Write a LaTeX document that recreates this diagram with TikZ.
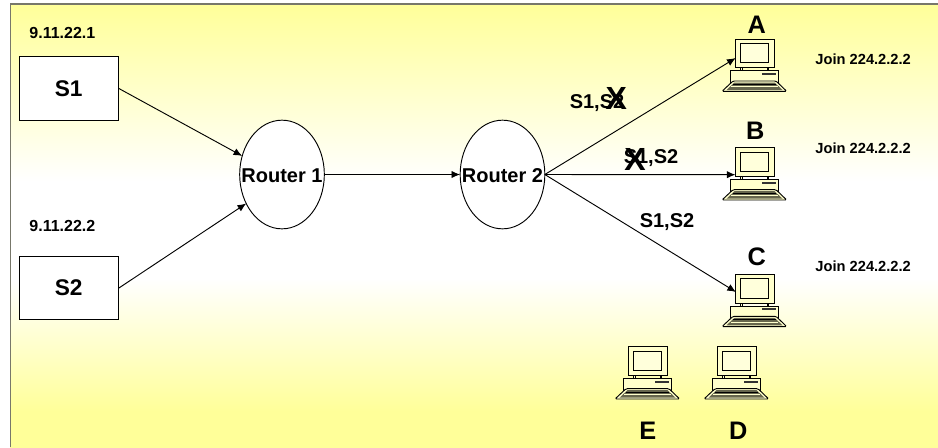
\documentclass[tikz,border=0pt]{standalone}
\usepackage{fontspec}
\setmainfont{Liberation Sans}
\usetikzlibrary{shapes.geometric,arrows.meta}
\definecolor{paleY}{HTML}{FFFF99}
\definecolor{creamY}{HTML}{FFFFCC}
\definecolor{frameG}{HTML}{77776A}
\definecolor{keyG}{HTML}{66664D}
\pgfdeclareverticalshading{slideband}{100bp}{color(0bp)=(paleY); color(29bp)=(paleY); color(44bp)=(white); color(55bp)=(white); color(75bp)=(paleY); color(100bp)=(paleY)}
\tikzset{
    srcbox/.style={draw,fill=white,minimum width=74.6pt,minimum height=47.6pt,inner sep=0pt,font=\fontsize{17}{19}\selectfont\bfseries},
    router/.style={draw,fill=white,ellipse,minimum width=63.5pt,minimum height=81.5pt,inner sep=0pt,outer sep=0pt},
    rtext/.style={inner sep=0pt,font=\fontsize{15}{17}\selectfont\bfseries},
    small/.style={inner sep=0pt,font=\fontsize{12}{14}\selectfont\bfseries},
    joinlab/.style={inner sep=0pt,anchor=west,font=\fontsize{11}{13}\selectfont\bfseries},
    flow/.style={inner sep=0pt,font=\fontsize{15}{17}\selectfont\bfseries},
    pcname/.style={inner sep=0pt,font=\fontsize{19}{21}\selectfont\bfseries},
    cross/.style={inner sep=0pt,font=\fontsize{24}{26}\selectfont\bfseries},
    computer/.pic={
        \draw[fill=creamY] (0,0) rectangle (39,28.7);
        \draw[fill=creamY!70!white] (5.3,4.3) rectangle (33.7,23.7);
        \draw[fill=creamY] (5.3,28.7) rectangle (7,31.7);
        \draw[fill=creamY] (32,28.7) rectangle (33.7,31.7);
        \draw[fill=creamY] (-4.5,31.7) rectangle (43.7,44);
        \fill[black!80] (26.7,34) rectangle (40.7,36);
        \draw[fill=creamY,rounded corners=1pt] (-13,52.3)--(-2,42)--(41,42)--(51.7,52.3)--cycle;
        \fill[keyG] (-8.5,51)--(-0.5,43.5)--(39.5,43.5)--(47.5,51)--cycle;
        \draw[creamY,line width=.5pt] (-4,47.6)--(43,47.6);
        \draw[black] (-2,45.5)--(41,45.5);
    }
}
\begin{document}
\begin{tikzpicture}[>={Latex[length=6.5pt,width=5.5pt]},x=.75pt,y=-.75pt,line width=.7pt]
    \useasboundingbox (0,0) rectangle (938,447);
    \shade[shading=slideband] (10,4) rectangle (938,447);
    \draw[frameG,line width=1.1pt] (10.7,447)--(10.7,4.2)--(938,4.2);

    \node[srcbox] (s1) at (68.7,88.5) {S1};
    \node[srcbox] (s2) at (68.7,288) {S2};
    \node[small,anchor=west] (ip1) at (29,32.7) {9.11.22.1};
    \node[small,anchor=west] (ip2) at (29,226) {9.11.22.2};

    \node[router] (r1) at (282,174.5) {};
    \node[router] (r2) at (502.5,174.5) {};
    \node[rtext] (r1t) at (282,176) {Router 1};
    \node[rtext] (r2t) at (502.5,176) {Router 2};

    \foreach \name/\x/\y in {A/735/39,B/735/147.7,C/735/274.3,E/628/346.7,D/717/346.7}
        \pic (pc\name) at (\x,\y) {computer};

    \node[pcname] (la) at (756.7,25) {A};
    \node[pcname] (lb) at (755.3,130.7) {B};
    \node[pcname] (lc) at (756.7,256.7) {C};
    \node[pcname] (le) at (647.7,430.7) {E};
    \node[pcname] (ld) at (738.3,430.7) {D};

    \node[joinlab] (ja) at (815,59) {Join 224.2.2.2};
    \node[joinlab] (jb) at (815,148.3) {Join 224.2.2.2};
    \node[joinlab] (jc) at (815,266) {Join 224.2.2.2};

    \coordinate (ina) at (735.7,58);
    \coordinate (inb) at (735.5,174.7);
    \coordinate (inc) at (736,292);

    \draw[->] (s1.east)--(r1.155);
    \draw[->] (s2.east)--(r1.219);
    \draw[->] (r1.east)--(r2.west);
    \draw[->] (r2.east)--(ina);
    \draw[->] (r2.east)--(inb);
    \draw[->] (r2.east)--(inc);

    \node[flow] (fa) at (597,103) {S1,S2};
    \node[flow] (fb) at (651,157.7) {S1,S2};
    \node[flow] (fc) at (667,222) {S1,S2};
    \node[cross] (xa) at (616.3,98) {X};
    \node[cross] (xb) at (635,159.3) {X};
\end{tikzpicture}
\end{document}
